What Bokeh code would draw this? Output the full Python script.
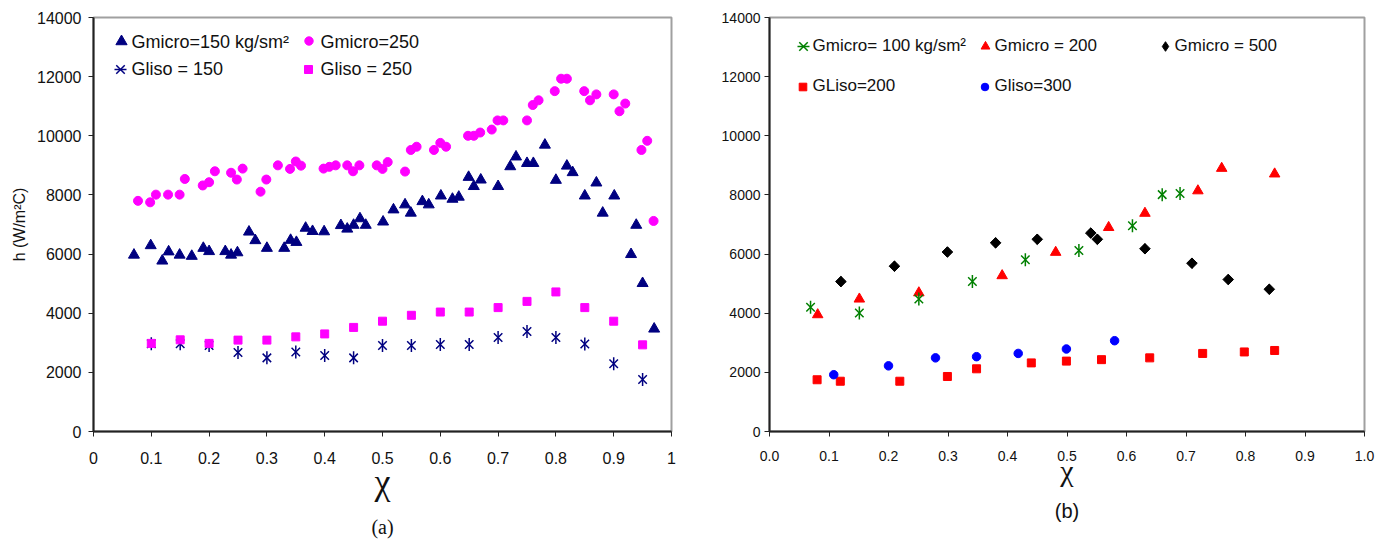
import math
from bokeh.plotting import figure
from bokeh.models import Range1d, FixedTicker, Legend, LegendItem, Title, Label
from bokeh.layouts import row
from bokeh.embed import file_html
from bokeh.resources import INLINE

# ---------------- data: panel (a) ----------------
a_gmicro150_x = [0.070, 0.099, 0.119, 0.130, 0.149, 0.170, 0.190, 0.200, 0.228, 0.238,
                 0.249, 0.269, 0.280, 0.300, 0.330, 0.341, 0.351, 0.367, 0.379, 0.399,
                 0.428, 0.439, 0.450, 0.461, 0.471, 0.501, 0.519, 0.539, 0.549, 0.569,
                 0.580, 0.601, 0.621, 0.632, 0.649, 0.658, 0.670, 0.700, 0.721, 0.731,
                 0.750, 0.761, 0.781, 0.800, 0.819, 0.829, 0.850, 0.870, 0.881, 0.901,
                 0.930, 0.939, 0.950, 0.970]
a_gmicro150_y = [5970, 6290, 5770, 6080, 5970, 5930, 6200, 6090, 6090, 5970,
                 6050, 6750, 6460, 6200, 6200, 6470, 6400, 6880, 6770, 6760,
                 6970, 6850, 6980, 7200, 6980, 7090, 7500, 7670, 7390, 7780,
                 7670, 7970, 7860, 7930, 8600, 8290, 8510, 8290, 8960, 9290,
                 9070, 9070, 9690, 8500, 8980, 8760, 7970, 8410, 7390, 7970,
                 5990, 6980, 5010, 3470]

a_gmicro250_x = [0.077, 0.098, 0.108, 0.129, 0.149, 0.158, 0.189, 0.200, 0.210, 0.238,
                 0.248, 0.258, 0.289, 0.299, 0.319, 0.340, 0.350, 0.359, 0.398, 0.408,
                 0.419, 0.439, 0.449, 0.460, 0.490, 0.500, 0.509, 0.539, 0.549, 0.559,
                 0.589, 0.600, 0.610, 0.648, 0.658, 0.669, 0.689, 0.699, 0.709, 0.750,
                 0.760, 0.770, 0.798, 0.809, 0.819, 0.849, 0.859, 0.870, 0.900, 0.910,
                 0.920, 0.948, 0.958, 0.969]
a_gmicro250_y = [7800, 7750, 8010, 8010, 8010, 8540, 8320, 8430, 8800, 8750,
                 8520, 8890, 8110, 8520, 9000, 8880, 9130, 8990, 8890, 8950,
                 9000, 9000, 8800, 9000, 9000, 8880, 9110, 8790, 9520, 9630,
                 9520, 9760, 9630, 10000, 10000, 10110, 10210, 10520, 10520, 10520,
                 11040, 11200, 11510, 11930, 11930, 11510, 11200, 11400, 11400, 10830,
                 11090, 9520, 9830, 7120]

a_gliso_x = [0.10, 0.15, 0.20, 0.25, 0.30, 0.35, 0.40, 0.45, 0.50,
             0.55, 0.60, 0.65, 0.70, 0.75, 0.80, 0.85, 0.90, 0.95]
a_gliso150_y = [2970, 2970, 2910, 2670, 2490, 2690, 2570, 2490, 2910,
                2910, 2940, 2940, 3180, 3380, 3180, 2960, 2290, 1760]
a_gliso250_y = [2980, 3100, 2980, 3090, 3090, 3200, 3300, 3520, 3730,
                3930, 4040, 4040, 4190, 4400, 4720, 4190, 3730, 2930]

# ---------------- data: panel (b) ----------------
b_gmicro100_x = [0.069, 0.151, 0.251, 0.341, 0.430, 0.520, 0.610, 0.660, 0.690]
b_gmicro100_y = [4200, 4010, 4480, 5070, 5810, 6120, 6960, 8010, 8050]
b_gmicro200_x = [0.081, 0.151, 0.251, 0.391, 0.481, 0.570, 0.631, 0.720, 0.760, 0.849]
b_gmicro200_y = [3950, 4480, 4690, 5270, 6060, 6900, 7380, 8140, 8900, 8710]
b_gmicro500_x = [0.120, 0.210, 0.299, 0.380, 0.450, 0.540, 0.551, 0.631, 0.710, 0.771, 0.840]
b_gmicro500_y = [5070, 5590, 6070, 6380, 6500, 6710, 6500, 6180, 5690, 5140, 4810]
b_gliso200_x = [0.080, 0.119, 0.219, 0.299, 0.348, 0.440, 0.499, 0.558, 0.639, 0.728, 0.798, 0.849]
b_gliso200_y = [1750, 1700, 1700, 1860, 2120, 2320, 2380, 2430, 2490, 2640, 2690, 2740]
b_gliso300_x = [0.108, 0.200, 0.279, 0.348, 0.418, 0.499, 0.580]
b_gliso300_y = [1920, 2220, 2490, 2530, 2640, 2790, 3070]

# ---------------- ticks / labels ----------------
x_ticks = [0.0, 0.1, 0.2, 0.3, 0.4, 0.5, 0.6, 0.7, 0.8, 0.9, 1.0]
x_labels_a = ["0", "0.1", "0.2", "0.3", "0.4", "0.5", "0.6", "0.7", "0.8", "0.9", "1"]
x_labels_b = ["0.0", "0.1", "0.2", "0.3", "0.4", "0.5", "0.6", "0.7", "0.8", "0.9", "1.0"]
y_ticks = [0, 2000, 4000, 6000, 8000, 10000, 12000, 14000]

legend_a = ["Gmicro=150 kg/sm\u00b2", "Gmicro=250", "Gliso = 150", "Gliso = 250"]
legend_b = ["Gmicro= 100 kg/sm\u00b2", "Gmicro = 200", "Gmicro = 500", "GLiso=200", "Gliso=300"]
caption_a = "(a)"
caption_b = "(b)"

NAVY = "#000080"
MAG = "#FF00FF"
GREEN = "#008000"
RED = "#FF0000"
BLUE = "#0000FF"
BLACK = "#000000"
SANS = "Liberation Sans"
SERIF = "Liberation Serif"


def make_fig(width, height, bl, br, bt, bb, xlabels, tick_fs, xstand, ylabel, yl_standoff,
             chi_fs, chi_standoff):
    p = figure(width=width, height=height, output_backend="svg", toolbar_location=None,
               x_range=Range1d(0, 1), y_range=Range1d(0, 14000),
               min_border_left=bl, min_border_right=br, min_border_top=bt, min_border_bottom=bb)
    p.xgrid.visible = False
    p.ygrid.visible = False
    p.outline_line_color = "#a0a0a0"
    p.outline_line_width = 2
    p.background_fill_color = "white"
    p.border_fill_color = "white"
    p.xaxis.ticker = FixedTicker(ticks=x_ticks)
    p.xaxis.major_label_overrides = {t: l for t, l in zip(x_ticks, xlabels)}
    p.yaxis.ticker = FixedTicker(ticks=y_ticks)
    for ax in (p.xaxis[0], p.yaxis[0]):
        ax.axis_line_color = "#222222"
        ax.axis_line_width = 2
        ax.major_tick_line_color = "#222222"
        ax.major_tick_out = 5
        ax.major_tick_in = 0
        ax.minor_tick_out = 0
        ax.minor_tick_in = 0
        ax.major_label_text_font = SANS
        ax.major_label_text_font_size = tick_fs
        ax.major_label_text_color = "#111111"
    p.xaxis.major_label_standoff = xstand
    p.yaxis.major_label_standoff = yl_standoff
    p.xaxis.axis_label = "\u03c7"
    p.xaxis.axis_label_text_font = SERIF
    p.xaxis.axis_label_text_font_style = "normal"
    p.xaxis.axis_label_text_font_size = chi_fs
    p.xaxis.axis_label_text_color = "#111111"
    p.xaxis.axis_label_standoff = chi_standoff
    if ylabel:
        p.yaxis.axis_label = ylabel
        p.yaxis.axis_label_text_font = SANS
        p.yaxis.axis_label_text_font_style = "normal"
        p.yaxis.axis_label_text_font_size = "16px"
        p.yaxis.axis_label_text_color = "#111111"
        p.yaxis.axis_label_standoff = 6
    return p


def add_item(p, fl, fb, renderers, label, gx, gy, msize, tx, ty, fs):
    # legend key (glyph only) + text label placed next to it
    box = int(round(msize / 0.4))
    leg = Legend(items=[LegendItem(label=" ", renderers=renderers)],
                 location=(gx - box / 2 - fl, fb - gy - box / 2),
                 glyph_width=box, glyph_height=box, label_height=box, label_width=1,
                 label_standoff=0, padding=0, margin=0, spacing=0,
                 border_line_alpha=0, background_fill_alpha=0,
                 label_text_font_size="1px")
    p.add_layout(leg)
    p.add_layout(Label(x=tx - fl, y=fb - ty, x_units="screen", y_units="screen", text=label,
                       text_align="left", text_baseline="middle", text_font=SANS,
                       text_font_size=fs, text_color="#111111"))


def star(p, x, y, color, size):
    r1 = p.scatter(x, y, marker="x", size=size, line_color=color, line_width=1.5)
    r2 = p.scatter(x, y, marker="dash", size=size + 1, angle=math.pi / 2,
                   line_color=color, line_width=1.5)
    return [r1, r2]


def caption(p, text, font, size, standoff):
    p.add_layout(Title(text=text, align="center", text_font=font, text_font_size=size,
                       text_font_style="normal", text_color="#111111", standoff=standoff),
                 "below")


H = 549
# ---------------- panel (a) ----------------
WA = 700
BLA, BRA, BTA = 93, 29, 17
FRA_H = 416
pa = make_fig(WA, H, BLA, BRA, BTA, H - BTA - FRA_H, x_labels_a, "16px", 15,
              "h (W/m\u00b2C)", 7, "36px", -5)
FL_A = BLA
FB_A = BTA + FRA_H

ra1 = pa.scatter(a_gmicro150_x, a_gmicro150_y, marker="triangle", size=11,
                 fill_color=NAVY, line_color=NAVY)
ra2 = pa.scatter(a_gmicro250_x, a_gmicro250_y, marker="circle", size=9,
                 fill_color=MAG, line_color=MAG)
ra3 = star(pa, a_gliso_x, a_gliso150_y, NAVY, 12)
ra4 = pa.scatter(a_gliso_x, a_gliso250_y, marker="square", size=8,
                 fill_color=MAG, line_color=MAG)

add_item(pa, FL_A, FB_A, [ra1], legend_a[0], 121, 42.5, 11, 131, 43.5, "18px")
add_item(pa, FL_A, FB_A, [ra2], legend_a[1], 308.3, 42.7, 8.5, 320, 43.5, "18px")
add_item(pa, FL_A, FB_A, ra3, legend_a[2], 120, 70.7, 12, 131, 70.5, "18px")
add_item(pa, FL_A, FB_A, [ra4], legend_a[3], 308.3, 71, 8, 320, 70.5, "18px")
caption(pa, caption_a, SERIF, "20px", 19)

# ---------------- panel (b) ----------------
WB = 684
BLB, BRB, BTB = 69, 20, 17
FRB_H = 414
pb = make_fig(WB, H, BLB, BRB, BTB, H - BTB - FRB_H, x_labels_b, "14px", 14,
              None, 4, "30px", -10)
FL_B = WA + BLB
FB_B = BTB + FRB_H

rb4 = pb.scatter(b_gliso200_x, b_gliso200_y, marker="square", size=8,
                 fill_color=RED, line_color=RED)
rb5 = pb.scatter(b_gliso300_x, b_gliso300_y, marker="circle", size=8.5,
                 fill_color=BLUE, line_color=BLUE)
rb3_key = pb.scatter(b_gmicro500_x, b_gmicro500_y, marker="diamond", size=10,
                     fill_color=BLACK, line_color=BLACK)
rb3 = pb.scatter(b_gmicro500_x, b_gmicro500_y, marker="square", size=7.5, angle=math.pi / 4,
                 fill_color=BLACK, line_color=BLACK)
rb2 = pb.scatter(b_gmicro200_x, b_gmicro200_y, marker="triangle", size=10.5,
                 fill_color=RED, line_color=RED)
rb1 = star(pb, b_gmicro100_x, b_gmicro100_y, GREEN, 12)

add_item(pb, FL_B, FB_B, rb1, legend_b[0], 803.3, 46, 12, 812, 45, "17px")
add_item(pb, FL_B, FB_B, [rb2], legend_b[1], 985, 45.5, 9, 994, 45, "17px")
add_item(pb, FL_B, FB_B, [rb3_key], legend_b[2], 1165, 45.5, 9.5, 1174, 45, "17px")
add_item(pb, FL_B, FB_B, [rb4], legend_b[3], 802.3, 86, 7.5, 812, 85, "17px")
add_item(pb, FL_B, FB_B, [rb5], legend_b[4], 984, 86, 7.5, 994, 85, "17px")
caption(pb, caption_b, SANS, "20px", 16)

layout = row(pa, pb, spacing=0)
open("out.html", "w").write(file_html(layout, INLINE))
